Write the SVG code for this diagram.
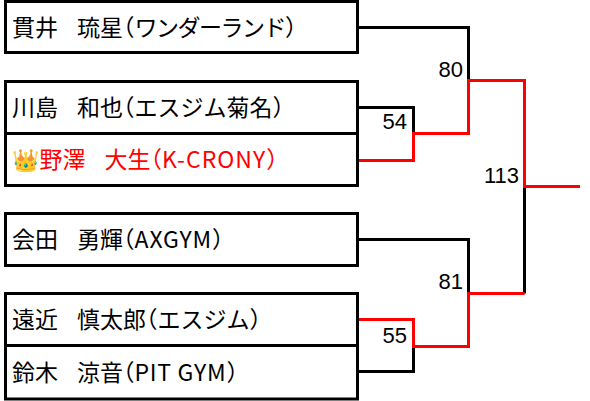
<svg xmlns="http://www.w3.org/2000/svg" width="590" height="401" viewBox="0 0 590 401">
<style>
.box{fill:#fff;stroke:#000;stroke-width:3}
.nm{font-family:"Noto Sans CJK JP","Noto Sans",sans-serif;font-size:23px;fill:#000}
.win{fill:#ff0000}
.p{font-feature-settings:"halt"}
.sp{letter-spacing:-4px}
.sc{font-family:"Liberation Sans",Arial,sans-serif;font-size:22px;fill:#000;text-anchor:end}
.lb{fill:none;stroke:#000;stroke-width:3;stroke-linejoin:miter}
.lr{fill:none;stroke:#ff0000;stroke-width:3;stroke-linejoin:miter}
</style>
<rect width="590" height="401" fill="#fff"/>
<g id="connectors">
<path class="lb" d="M357.5,27.5 H468.5 V80.5"/>
<path class="lb" d="M357.5,107.5 H413.5 V133.5"/>
<path class="lb" d="M357.5,239.5 H468.5 V293.5"/>
<path class="lb" d="M413.5,346.5 V371.5 H357.5"/>
<path class="lb" d="M524.5,186.5 V293.5"/>
<path class="lr" d="M357.5,160.5 H413.5 V133.5 H468.5 V80.5 H524.5 V186.5 H580"/>
<path class="lr" d="M357.5,319.5 H413.5 V346.5 H468.5 V293.5 H524.5"/>
</g>
<g id="node-nukui">
<rect class="box" x="5.5" y="1.5" width="352" height="51"/>
<text class="nm" x="12" y="35.5">貫井<tspan class="sp">　</tspan>琉星<tspan class="p">（</tspan><tspan letter-spacing="-1.5">ワンダーランド</tspan><tspan class="p">）</tspan></text>
</g>
<g id="node-kawashima">
<rect class="box" x="5.5" y="81.5" width="352" height="52"/>
<text class="nm" x="12" y="116">川島<tspan class="sp">　</tspan>和也<tspan class="p">（</tspan>エスジム菊名<tspan class="p">）</tspan></text>
</g>
<g id="node-nozawa">
<rect class="box" x="5.5" y="133.5" width="352" height="52"/>
<text class="nm" x="12" y="168"><tspan font-family="Noto Color Emoji,sans-serif" font-size="22px">👑</tspan><tspan class="win">野澤<tspan class="sp">　</tspan>大生<tspan class="p">（</tspan><tspan letter-spacing="1">K-CRONY</tspan><tspan class="p">）</tspan></tspan></text>
</g>
<g id="node-aida">
<rect class="box" x="5.5" y="213.5" width="352" height="52"/>
<text class="nm" x="12" y="248">会田<tspan class="sp">　</tspan>勇輝<tspan class="p">（</tspan><tspan letter-spacing="0.8">AXGYM</tspan><tspan class="p">）</tspan></text>
</g>
<g id="node-tochika">
<rect class="box" x="5.5" y="293.5" width="352" height="52"/>
<text class="nm" x="12" y="328">遠近<tspan class="sp">　</tspan>慎太郎<tspan class="p">（</tspan>エスジム<tspan class="p">）</tspan></text>
</g>
<g id="node-suzuki">
<rect class="box" x="5.5" y="345.5" width="352" height="53.5"/>
<text class="nm" x="12" y="381">鈴木<tspan class="sp">　</tspan>涼音<tspan class="p">（</tspan><tspan letter-spacing="0.7">PIT GYM</tspan><tspan class="p">）</tspan></text>
</g>
<g id="scores">
<text class="sc" x="463" y="77">80</text>
<text class="sc" x="407" y="129">54</text>
<text class="sc" x="519" y="183">113</text>
<text class="sc" x="463" y="289">81</text>
<text class="sc" x="407" y="343">55</text>
</g>
</svg>
